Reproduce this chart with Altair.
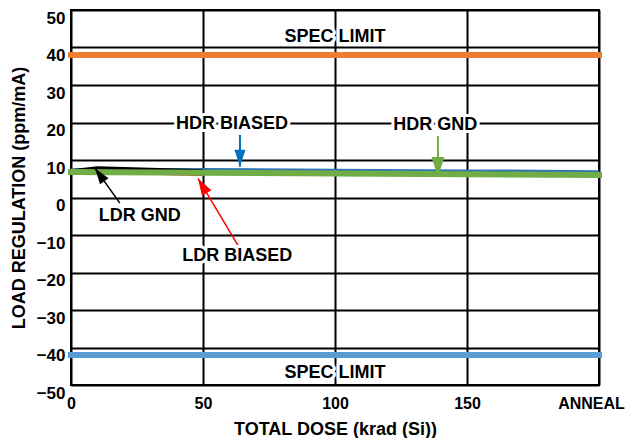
import altair as alt
import pandas as pd

# ---------------- data ----------------
ldr_dose = [0, 10, 20, 30, 50]
ldr_gnd = [7.0, 7.8, 7.6, 7.4, 7.0]
ldr_biased = [6.3, 6.4, 6.4, 6.3, 6.0]

hdr_dose = [0, 50, 100, 150, 200]
hdr_biased = [7.4, 7.5, 7.3, 7.1, 6.9]
hdr_gnd = [6.8, 6.6, 6.4, 6.2, 6.0]

spec_dose = [0, 200]
spec_upper = 38
spec_lower = -42

x_ticks = [0, 50, 100, 150, 200]
x_tick_labels = ["0", "50", "100", "150", "ANNEAL"]
y_ticks = [-50, -40, -30, -20, -10, 0, 10, 20, 30, 40, 50]

# annotation texts
note_text = ["SPEC LIMIT", "SPEC LIMIT", "HDR BIASED", "HDR GND", "LDR GND", "LDR BIASED"]
note_x = [100, 100, 61, 138, 26, 63]
note_y = [42.8, -46.8, 19.6, 19.3, -4.9, -15.6]

# annotation arrows (tail -> head)
arrow_color = ["#0070C0", "#70AD47", "#000000", "#FF0000"]
arrow_x0 = [64, 139, 18.5, 63.2]
arrow_y0 = [16.7, 16.4, -1.5, -12.7]
arrow_x1 = [64, 139, 9.1, 48.1]
arrow_y1 = [8.2, 5.5, 7.8, 5.1]
arrow_angle = [180, 180, 324.6, 329.2]
arrow_size = [289, 400, 256, 289]
arrow_width = [2, 2, 1.5, 1.5]

# ---------------- chart ----------------
FONT = "Liberation Sans"
label_map = "{" + ",".join(f"'{v}':'{l}'" for v, l in zip(x_ticks, x_tick_labels)) + "}"

xscale = alt.Scale(domain=[0, 200], nice=False, zero=False)
yscale = alt.Scale(domain=[-50, 50], nice=False, zero=False)

xaxis = alt.Axis(values=x_ticks, labelExpr=f"{label_map}[datum.value]",
                 title="TOTAL DOSE (krad (Si))", grid=True, gridColor="black",
                 gridWidth=2, gridOpacity=1, domain=False, ticks=False,
                 labelFont=FONT, labelFontSize=16, labelFontWeight="bold",
                 labelColor="black", labelPadding=10, labelOverlap=False,
                 labelFlush=False,
                 labelOffset={"condition": {"test": "datum.value == 200", "value": -8},
                              "value": 0},
                 titleFont=FONT, titleFontSize=18,
                 titleFontWeight="bold", titleColor="black", titlePadding=9)
yaxis = alt.Axis(values=y_ticks, title="LOAD REGULATION (ppm/mA)", grid=True,
                 gridColor="black", gridWidth=2, gridOpacity=1, domain=False,
                 ticks=False, labelFont=FONT, labelFontSize=17,
                 labelFontWeight="bold", labelColor="black", labelPadding=6,
                 labelBaseline="top", labelOverlap=False, labelFlush=False,
                 titleFont=FONT, titleFontSize=18, titleFontWeight="bold",
                 titleColor="black", titlePadding=8)


def X(field):
    return alt.X(f"{field}:Q", scale=xscale, axis=xaxis)


def Y(field):
    return alt.Y(f"{field}:Q", scale=yscale, axis=yaxis)


def series(dose, vals, color, width, cap="butt"):
    df = pd.DataFrame({"dose": dose, "value": vals})
    return alt.Chart(df).mark_line(color=color, strokeWidth=width, strokeCap=cap,
                                   clip=False).encode(x=X("dose"), y=Y("value"))


spec_df = pd.DataFrame({"x0": [spec_dose[0]] * 2, "x1": [spec_dose[1]] * 2,
                        "y": [spec_upper, spec_lower],
                        "color": ["#ED7D31", "#5B9BD5"]})
spec = alt.Chart(spec_df).mark_rule(strokeWidth=6, strokeCap="square").encode(
    x=X("x0"), x2="x1", y=Y("y"), color=alt.Color("color:N", scale=None))

arrow_df = pd.DataFrame({"x0": arrow_x0, "y0": arrow_y0, "x1": arrow_x1,
                         "y1": arrow_y1, "color": arrow_color,
                         "angle": arrow_angle, "size": arrow_size,
                         "w": arrow_width})
shafts = alt.Chart(arrow_df).mark_rule().encode(
    x=X("x0"), y=Y("y0"), x2="x1", y2="y1",
    color=alt.Color("color:N", scale=None),
    strokeWidth=alt.StrokeWidth("w:Q", scale=None))
heads = alt.Chart(arrow_df).mark_point(
    shape="M0,0L-0.65,2L0.65,2Z", filled=True, opacity=1).encode(
    x=X("x1"), y=Y("y1"), color=alt.Color("color:N", scale=None),
    angle=alt.Angle("angle:Q", scale=None), size=alt.Size("size:Q", scale=None))

note_df = pd.DataFrame({"text": note_text, "x": note_x, "y": note_y})
halo = alt.Chart(note_df).mark_text(
    font=FONT, fontSize=18, fontWeight="bold", color="white", stroke="white",
    strokeWidth=6, strokeJoin="round", baseline="middle").encode(
    x=X("x"), y=Y("y"), text="text:N")
notes = alt.Chart(note_df).mark_text(
    font=FONT, fontSize=18, fontWeight="bold", color="black",
    baseline="middle").encode(x=X("x"), y=Y("y"), text="text:N")

chart = alt.layer(
    spec,
    series(ldr_dose, ldr_biased, "#FF0000", 2),
    series(hdr_dose, hdr_biased, "#2F75B5", 3),
    series(ldr_dose, ldr_gnd, "#000000", 4),
    series(hdr_dose, hdr_gnd, "#70AD47", 6, "square"),
    shafts, heads, halo, notes,
).properties(
    width=528, height=375,
    padding={"left": 2, "top": 1, "right": 0, "bottom": 0},
).configure_view(stroke="black", strokeWidth=2)

chart.save("out.html", embed_options={"renderer": "svg", "actions": False})
